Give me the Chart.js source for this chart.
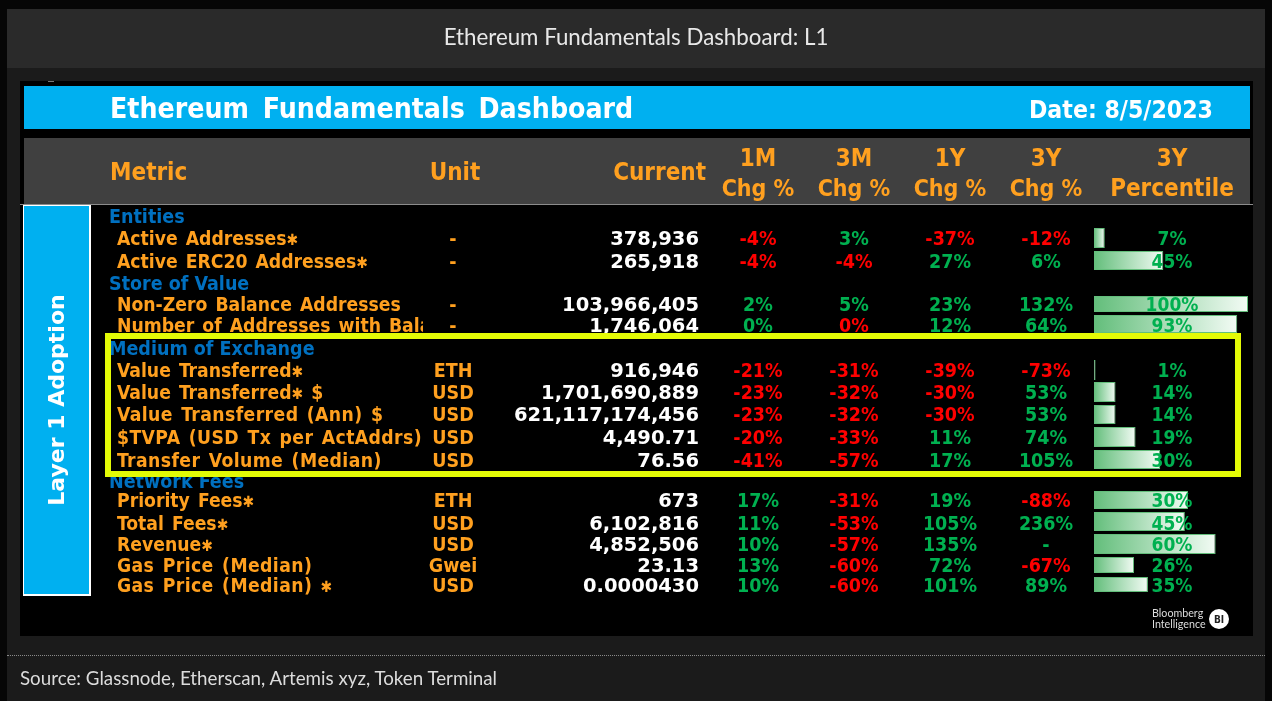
<!DOCTYPE html>
<html><head><meta charset="utf-8">
<script src="https://cdn.jsdelivr.net/npm/chart.js@4"></script>
<style>
html,body{margin:0;padding:0;background:#060606;width:1272px;height:701px;overflow:hidden}
.p{position:absolute}
.t{position:absolute;white-space:nowrap;font-family:"DejaVu Sans Condensed","DejaVu Sans";font-weight:700;font-stretch:condensed;line-height:1;transform:translateY(-50%)}
.t span{font-size:.8em}
#chart{position:absolute;left:0;top:0;z-index:3}
#texts{position:absolute;left:0;top:0;width:1272px;height:701px;z-index:4}
#hl{position:absolute;left:105px;top:333px;width:1124px;height:132px;border:6px solid #E4FB06;z-index:5}
</style></head><body>
<div class="p" style="left:7px;top:9px;width:1258px;height:59px;background:#2a2a2a"></div>
<div class="p" style="left:7px;top:68px;width:1258px;height:633px;background:#1b1b1b"></div>
<div class="p" style="left:7px;top:655px;width:1258px;border-top:1px dotted #8a8a8a"></div>
<div class="p" style="left:20px;top:81px;width:1233px;height:555px;background:#000"></div>
<div class="p" style="left:48px;top:81px;width:6px;height:1px;background:#777"></div>
<div class="p" style="left:24px;top:86px;width:1226px;height:43px;background:#00B0F0"></div>
<div class="p" style="left:24px;top:138px;width:1226px;height:66px;background:#404040"></div>
<div class="p" style="left:20px;top:204px;width:1233px;height:1px;background:#8c8c8c"></div>
<div class="p" style="left:23px;top:205px;width:65px;height:388px;background:#00B0F0;border:1px solid #fff;border-width:1px 2px 2px 1px"></div>
<canvas id="chart" width="1272" height="701"></canvas>
<div id="texts"></div>
<div id="hl"></div>
<script>
const rowLabels=["Entities","Active Addresses✱","Active ERC20 Addresses✱","Store of Value","Non-Zero Balance Addresses","Number of Addresses with Balance","Medium of Exchange","Value Transferred✱","Value Transferred✱ $","Value Transferred (Ann) $","$TVPA (USD Tx per ActAddrs)","Transfer Volume (Median)","Network Fees","Priority Fees✱","Total Fees✱","Revenue✱","Gas Price (Median)","Gas Price (Median) ✱"];
const sectionRows=[0,3,6,12];
const units=["","-","-","","-","-","","ETH","USD","USD","USD","USD","","ETH","USD","USD","Gwei","USD"];
const current=["","378,936","265,918","","103,966,405","1,746,064","","916,946","1,701,690,889","621,117,174,456","4,490.71","76.56","","673","6,102,816","4,852,506","23.13","0.0000430"];
const chg1M=["","-4%","-4%","","2%","0%","","-21%","-23%","-23%","-20%","-41%","","17%","11%","10%","13%","10%"];
const chg3M=["","3%","-4%","","5%","0%","","-31%","-32%","-32%","-33%","-57%","","-31%","-53%","-57%","-60%","-60%"];
const chg1Y=["","-37%","27%","","23%","12%","","-39%","-30%","-30%","11%","17%","","19%","105%","135%","72%","101%"];
const chg3Y=["","-12%","6%","","132%","64%","","-73%","53%","53%","74%","105%","","-88%","236%","-","-67%","89%"];
const percentileLabels=["","7%","45%","","100%","93%","","1%","14%","14%","19%","30%","","30%","45%","60%","26%","35%"];
const barValues=[null,7,45,null,100,93,null,1,14,14,27,43,null,61,59,79,26,35];

// layout (pixels), kept apart from the data
const rowCenters=[216,238,260.5,283,304,324,348,370,392,414.5,437,459.5,481,500,521.5,544,565,584.5];
const barHeights=[0,20,19,0,16,18,0,20,20,19,20,19,0,18,19,20,16,15];
const textCenters=[216,238,261,283,304,325,348,370,392,414,437,460,481,500,523,544,565,585];
const parenRows=[9,10,11,16,17];

class RowScale extends Chart.CategoryScale{
  getPixelForValue(v){ if(typeof v!=="number") v=this.parse(v); return v===null?NaN:this.top+rowCenters[v]; }
  getPixelForTick(i){ return this.getPixelForValue(i); }
}
RowScale.id="rowScale"; RowScale.defaults=Chart.CategoryScale.defaults;
Chart.register(RowScale);

const rowHeightPlugin={id:"rowHeight",afterDatasetsUpdate(chart){
  chart.getDatasetMeta(0).data.forEach((el,i)=>{ el.height=barHeights[i]; });
}};
function barFill(c){
  const v=c.parsed&&c.parsed.x; if(v==null) return "#63BE7B";
  const x=c.chart.scales.x, g=c.chart.ctx.createLinearGradient(x.getPixelForValue(0),0,x.getPixelForValue(v),0);
  g.addColorStop(0,"#63BE7B"); g.addColorStop(1,"#F2FBF4"); return g;
}
const chart=new Chart(document.getElementById("chart"),{
  type:"bar",plugins:[rowHeightPlugin],
  data:{labels:rowLabels,datasets:[{data:barValues,backgroundColor:barFill,borderColor:"#63BE7B",borderWidth:1}]},
  options:{indexAxis:"y",responsive:false,animation:false,
    layout:{padding:{left:1094,right:24,top:0,bottom:0}},
    plugins:{legend:{display:false},tooltip:{enabled:false}},
    scales:{x:{display:false,min:0,max:100},y:{type:"rowScale",display:false}}}
});

const box=document.getElementById("texts");
function put(s,x,y,o={}){
  const d=document.createElement("div");d.className="t";d.textContent=s;
  if(s.includes("✱")){
    d.textContent="";
    s.split("✱").forEach((part,k)=>{
      if(k){const sp=document.createElement("span");sp.textContent="✱";d.appendChild(sp);}
      d.appendChild(document.createTextNode(part));
    });
  }
  const a=o.align||"left";
  d.style.top=y+"px";d.style.fontSize=(o.size||18)+"px";d.style.color=o.color||"#fff";
  if(o.family)d.style.fontFamily=o.family;
  if(o.weight)d.style.fontWeight=o.weight;
  if(o.stretch)d.style.fontStretch=o.stretch;
  if(o.ls)d.style.letterSpacing=o.ls+"px";
  if(o.ws)d.style.wordSpacing=o.ws+"px";
  if(a==="left")d.style.left=x+"px";
  if(a==="right")d.style.right=(1272-x)+"px";
  if(a==="center"){d.style.left=x+"px";d.style.transform="translate(-50%,-50%)";}
  if(o.clip){d.style.width=o.clip+"px";d.style.overflow="hidden";d.style.lineHeight="1.25";}
  box.appendChild(d);return d;
}
const ORANGE="#FFA01F",BLUE="#0070C0",GREEN="#00B050",RED="#FF0000";
const chrome='Lato,"Open Sans",sans-serif';
const wide='"DejaVu Sans"';
put("Ethereum Fundamentals Dashboard: L1",636,37,{align:"center",size:22.3,family:chrome,weight:400,color:"#e8e8e8",stretch:"normal"});
put("Source: Glassnode, Etherscan, Artemis xyz, Token Terminal",20,678,{size:18.75,family:chrome,weight:400,color:"#dcdcdc",stretch:"normal"});
put("Ethereum Fundamentals Dashboard",110,109,{size:28.2,ws:5});
put("Date: 8/5/2023",1029,109.5,{size:24.6});
put("Metric",110,172,{size:24,color:ORANGE});
put("Unit",455,172,{size:24,color:ORANGE,align:"center"});
put("Current",706,172,{size:24,color:ORANGE,align:"right"});
const hdrCols=[[758,"1M","Chg %",23],[854,"3M","Chg %",23],[950,"1Y","Chg %",23],[1046,"3Y","Chg %",23],[1172,"3Y","Percentile",24]];
hdrCols.forEach(h=>{put(h[1],h[0],158,{size:24,color:ORANGE,align:"center"});put(h[2],h[0],188,{size:h[3],color:ORANGE,align:"center"});});

function signColor(s,i,col){
  if(col==="3M"&&i===5) return RED;
  return s.startsWith("-")&&s!=="-"?RED:GREEN;
}
const S=19.5;
rowLabels.forEach((lab,i)=>{
  const y=textCenters[i]+0.5;
  if(sectionRows.includes(i)){put(lab,109,y,{size:S,color:BLUE});return;}
  put(lab,117,y,{size:19.2,ws:2,ls:parenRows.includes(i)?0.4:0,color:ORANGE,clip:i===5?306:0});
  put(units[i],453,y,{size:S,color:ORANGE,align:"center"});
  put(current[i],699,y,{size:S,family:wide,stretch:"normal",align:"right"});
  put(chg1M[i],758,y,{size:S,color:signColor(chg1M[i],i,"1M"),align:"center"});
  put(chg3M[i],854,y,{size:S,color:signColor(chg3M[i],i,"3M"),align:"center"});
  put(chg1Y[i],950,y,{size:S,color:signColor(chg1Y[i],i,"1Y"),align:"center"});
  put(chg3Y[i],1046,y,{size:S,color:signColor(chg3Y[i],i,"3Y"),align:"center"});
  put(percentileLabels[i],1172,y-0.5,{size:19,color:GREEN,align:"center"});
});
// rotated band label
const band=put("Layer 1 Adoption",57,400,{size:22,family:wide,stretch:"normal",align:"center"});
band.style.transform="translate(-50%,-50%) rotate(-90deg)";
// logo
put("Bloomberg",1152,613,{size:10.7,family:chrome,weight:400,color:"#ddd",stretch:"normal"});
put("Intelligence",1152,624,{size:10.7,family:chrome,weight:400,color:"#ddd",stretch:"normal"});
const c=document.createElement("div");c.className="p";c.style.cssText="left:1209px;top:609px;width:20px;height:20px;border-radius:50%;background:#fff;z-index:4";box.appendChild(c);
put("BI",1219,619.5,{size:10,color:"#222",align:"center"}).style.zIndex=5;
</script>
</body></html>
